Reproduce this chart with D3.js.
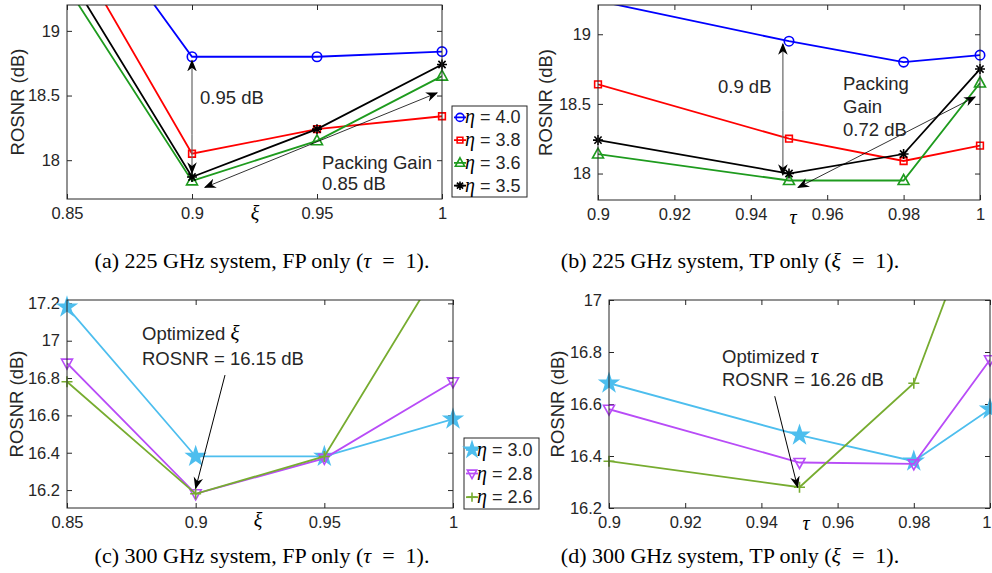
<!DOCTYPE html>
<html>
<head>
<meta charset="utf-8">
<script src="https://cdn.jsdelivr.net/npm/d3@7"></script>
<style>
  body { margin: 0; background: #fff; }
  text { font-family: "Liberation Sans", Arial, sans-serif; fill: #262626; }
  .serif { font-family: "Liberation Serif", "Times New Roman", serif; fill: #000; }
</style>
</head>
<body>
<svg id="fig" width="992" height="573"></svg>
<script>
// ---- data ----
// (a) 225 GHz, FP only
var xA = [0.85, 0.9, 0.95, 1];
var a_eta40 = [20.13, 18.80, 18.80, 18.84];
var a_eta38 = [19.72, 18.05, 18.24, 18.34];
var a_eta36 = [19.34, 17.84, 18.15, 18.65];
var a_eta35 = [19.45, 17.87, 18.24, 18.74];
var xTicksA = [0.85, 0.9, 0.95, 1];
var yTicksA = [18, 18.5, 19];

// (b) 225 GHz, TP only
var xB = [0.9, 0.95, 0.98, 1];
var b_eta40 = [19.24, 18.95, 18.80, 18.85];
var b_eta38 = [18.64, 18.25, 18.09, 18.20];
var b_eta36 = [18.14, 17.95, 17.95, 18.65];
var b_eta35 = [18.24, 18.00, 18.14, 18.75];
var xTicksB = [0.9, 0.92, 0.94, 0.96, 0.98, 1];
var yTicksB = [18, 18.5, 19];

// (c) 300 GHz, FP only
var xC = [0.85, 0.9, 0.95, 1];
var c_eta30 = [17.18, 16.38, 16.38, 16.58];
var c_eta28 = [16.88, 16.18, 16.37, 16.78];
var c_eta26 = [16.78, 16.18, 16.38, 17.51];
var xTicksC = [0.85, 0.9, 0.95, 1];
var yTicksC = [16.2, 16.4, 16.6, 16.8, 17, 17.2];

// (d) 300 GHz, TP only
var xD = [0.9, 0.95, 0.98, 1];
var d_eta30 = [16.68, 16.48, 16.38, 16.58];
var d_eta28 = [16.58, 16.375, 16.37, 16.77];
var d_eta26 = [16.38, 16.28, 16.68, 17.46];
var xTicksD = [0.9, 0.92, 0.94, 0.96, 0.98, 1];
var yTicksD = [16.2, 16.4, 16.6, 16.8, 17];

var labels225 = ['4.0', '3.8', '3.6', '3.5'];
var labels300 = ['3.0', '2.8', '2.6'];

var svg = d3.select('#fig');
var axisColor = '#262626';

// arrow heads
var defs = svg.append('defs');
defs.append('marker').attr('id', 'head').attr('viewBox', '0 0 10 10')
    .attr('refX', 9).attr('refY', 5).attr('markerWidth', 12).attr('markerHeight', 12)
    .attr('markerUnits', 'userSpaceOnUse').attr('orient', 'auto-start-reverse')
    .append('path').attr('d', 'M0,1 L10,5 L0,9 L3,5 Z').attr('fill', '#000');

// marker shapes
function markerPath(type, k) {
  k = k || 1;
  if (type == 'circle') return d3.symbol(d3.symbolCircle, 70 * k * k)();
  if (type == 'square') return d3.symbol(d3.symbolSquare, 45 * k * k)();
  if (type == 'triangle') return `M0,${-6*k}L${5.5*k},${4*k}L${-5.5*k},${4*k}Z`;
  if (type == 'tridown') return `M0,${6*k}L${5.5*k},${-4*k}L${-5.5*k},${-4*k}Z`;
  if (type == 'star') return d3.symbol(d3.symbolStar, 95 * k * k)();
  if (type == 'asterisk') { var r = 5 * k, q = 3.6 * k; return `M0,${-r}V${r}M${-r},0H${r}M${-q},${-q}L${q},${q}M${-q},${q}L${q},${-q}`; }
  if (type == 'plus') { var p = 5.5 * k; return `M0,${-p}V${p}M${-p},0H${p}`; }
}
function filled(type) { return type == 'star'; }

function panel(cfg) {
  var x = d3.scaleLinear().domain(cfg.xDom).range([cfg.l, cfg.r]);
  var y = d3.scaleLinear().domain(cfg.yDom).range([cfg.b, cfg.t]);
  var g = svg.append('g');
  var clipId = 'clip' + cfg.id;
  defs.append('clipPath').attr('id', clipId).append('rect')
      .attr('x', cfg.l).attr('y', cfg.t).attr('width', cfg.r - cfg.l).attr('height', cfg.b - cfg.t);

  // axes, ticks inside on all four sides
  var xAxis = g.append('g').attr('transform', `translate(0,${cfg.b})`)
      .call(d3.axisBottom(x).tickValues(cfg.xTicks).tickSizeInner(-5).tickSizeOuter(0).tickPadding(8).tickFormat(d => String(d)));
  g.append('g').attr('transform', `translate(${cfg.l},0)`)
      .call(d3.axisLeft(y).tickValues(cfg.yTicks).tickSizeInner(-5).tickSizeOuter(0).tickPadding(7).tickFormat(d => String(d)));
  g.append('g').attr('transform', `translate(0,${cfg.t})`)
      .call(d3.axisTop(x).tickValues(cfg.xTicks).tickSizeInner(-5).tickSizeOuter(0).tickFormat(''));
  g.append('g').attr('transform', `translate(${cfg.r},0)`)
      .call(d3.axisRight(y).tickValues(cfg.yTicks).tickSizeInner(-5).tickSizeOuter(0).tickFormat(''));
  g.selectAll('.domain').remove();
  g.selectAll('.tick line').attr('stroke', axisColor);
  g.selectAll('.tick text').style('font-size', '16.5px').attr('fill', axisColor);
  // last label right at the page edge: keep it inside
  if (cfg.r > 985) xAxis.selectAll('.tick text').filter(d => d == 1).attr('text-anchor', 'end').attr('x', 991 - cfg.r + 0);

  // series
  var line = d3.line().x(d => x(d[0])).y(d => y(d[1]));
  cfg.series.forEach(function(s) {
    var pts = cfg.xs.map((v, i) => [v, s.values[i]]);
    var sg = g.append('g').attr('clip-path', `url(#${clipId})`);
    sg.append('path').datum(pts).attr('d', line).attr('fill', 'none')
      .attr('stroke', s.color).attr('stroke-width', 1.8);
    g.append('g').selectAll('path').data(pts.filter(p => p[1] <= cfg.yDom[1] + 0.01)).enter()
      .append('path').attr('d', markerPath(s.marker))
      .attr('transform', p => `translate(${x(p[0])},${y(p[1])})`)
      .attr('fill', filled(s.marker) ? s.color : 'none')
      .attr('stroke', s.color).attr('stroke-width', 1.6);
  });

  // box
  g.append('rect').attr('x', cfg.l).attr('y', cfg.t).attr('width', cfg.r - cfg.l).attr('height', cfg.b - cfg.t)
    .attr('fill', 'none').attr('stroke', axisColor).attr('stroke-width', 1);

  // y label
  g.append('text').attr('transform', `translate(${cfg.yLabX},${(cfg.t + cfg.b) / 2}) rotate(-90)`)
    .attr('text-anchor', 'middle').style('font-size', '18.5px').text('ROSNR (dB)');
  // x symbol label
  g.append('text').attr('class', 'serif').attr('x', cfg.xLab[0]).attr('y', cfg.xLab[1])
    .attr('text-anchor', 'middle').style('font-size', '20px').style('font-style', 'italic').text(cfg.xSym);

  // caption
  var cap = g.append('text').attr('class', 'serif').attr('x', cfg.cap[0]).attr('y', cfg.cap[1])
    .attr('text-anchor', 'middle').style('font-size', '22px').attr('xml:space', 'preserve');
  cap.append('tspan').text(cfg.capText + ' (');
  cap.append('tspan').style('font-style', 'italic').text(cfg.capSym);
  cap.append('tspan').text('  =  1).');

  cfg.x = x; cfg.y = y; cfg.g = g;
  return cfg;
}

function arrow(p, from, to, color, width, both) {
  var ln = p.g.append('line')
    .attr('x1', p.x(from[0])).attr('y1', p.y(from[1]))
    .attr('x2', p.x(to[0])).attr('y2', p.y(to[1]))
    .attr('stroke', color).attr('stroke-width', width)
    .attr('marker-end', 'url(#head)');
  if (both) ln.attr('marker-start', 'url(#head)');
}

function note(p, xx, yy, lines, gap) {
  lines.forEach(function(t, i) {
    var tx = p.g.append('text').attr('x', xx).attr('y', yy + i * (gap || 22)).style('font-size', '18.5px').attr('fill', '#000');
    if (Array.isArray(t)) {
      tx.append('tspan').text(t[0]);
      tx.append('tspan').attr('class', 'serif').style('font-style', 'italic').style('font-size', '21px').text(t[1]);
    } else tx.text(t);
  });
}

function legend(p, bx, by, w, h, series, labs) {
  var lg = p.g.append('g');
  lg.append('rect').attr('x', bx).attr('y', by).attr('width', w).attr('height', h)
    .attr('fill', '#fff').attr('stroke', axisColor).attr('stroke-width', 1);
  var rowH = h / series.length;
  series.forEach(function(s, i) {
    var cy = by + rowH * (i + 0.5);
    lg.append('line').attr('x1', bx + 2).attr('x2', bx + 14).attr('y1', cy).attr('y2', cy)
      .attr('stroke', s.color).attr('stroke-width', 1.8);
    lg.append('path').attr('d', markerPath(s.marker, 0.85)).attr('transform', `translate(${bx + 8},${cy})`)
      .attr('fill', filled(s.marker) ? s.color : 'none').attr('stroke', s.color).attr('stroke-width', 1.6);
    var t = lg.append('text').attr('x', bx + 13).attr('y', cy + 6).style('font-size', '18px').attr('fill', '#000');
    t.append('tspan').attr('class', 'serif').style('font-style', 'italic').style('font-size', '20px').text('η');
    t.append('tspan').text(' = ' + labs[i]);
  });
}

var blue = '#0000ff', red = '#ff0000', green = '#1e9b1e', black = '#000000';
var cyan = '#4dbeee', purple = '#b84cf7', olive = '#77ac30';

var pa = panel({
  id: 'a', l: 67, r: 442, t: 5, b: 199, xDom: [0.85, 1], yDom: [17.7, 19.2],
  xTicks: xTicksA, yTicks: yTicksA, xs: xA, yLabX: 24, xLab: [255, 220], xSym: 'ξ',
  cap: [262, 268], capText: '(a) 225 GHz system, FP only', capSym: 'τ',
  series: [
    {values: a_eta40, color: blue, marker: 'circle'},
    {values: a_eta38, color: red, marker: 'square'},
    {values: a_eta36, color: green, marker: 'triangle'},
    {values: a_eta35, color: black, marker: 'asterisk'}
  ]
});
arrow(pa, [0.9, 18.55], [0.9, 18.77], '#666', 1.2, false);
arrow(pa, [0.9, 18.2], [0.9, 17.9], '#666', 1.2, false);
pa.g.append('line').attr('x1', pa.x(0.9)).attr('x2', pa.x(0.9)).attr('y1', pa.y(18.55)).attr('y2', pa.y(18.2))
  .attr('stroke', '#666').attr('stroke-width', 1.2);
arrow(pa, [0.9052, 17.79], [0.998, 18.52], '#000', 0.8, true);
note(pa, 200, 104, ['0.95 dB']);
note(pa, 322, 169, ['Packing Gain', '0.85 dB'], 21);
legend(pa, 452, 106, 75, 91, pa.series, labels225);

var pb = panel({
  id: 'b', l: 598, r: 980, t: 5, b: 200, xDom: [0.9, 1], yDom: [17.81, 19.21],
  xTicks: xTicksB, yTicks: yTicksB, xs: xB, yLabX: 552, xLab: [793, 224], xSym: 'τ',
  cap: [730, 268], capText: '(b) 225 GHz system, TP only', capSym: 'ξ',
  series: [
    {values: b_eta40, color: blue, marker: 'circle'},
    {values: b_eta38, color: red, marker: 'square'},
    {values: b_eta36, color: green, marker: 'triangle'},
    {values: b_eta35, color: black, marker: 'asterisk'}
  ]
});
arrow(pb, [0.9484, 18.45], [0.9484, 18.93], '#666', 1.2, false);
arrow(pb, [0.9484, 18.45], [0.9484, 17.99], '#666', 1.2, false);
arrow(pb, [0.9524, 17.9], [0.9987, 18.55], '#000', 0.8, true);
note(pb, 718, 93, ['0.9 dB']);
note(pb, 843, 90, ['Packing', 'Gain', '0.72 dB'], 23);

var pc = panel({
  id: 'c', l: 67, r: 453, t: 300, b: 508, xDom: [0.85, 1], yDom: [16.104, 17.218],
  xTicks: xTicksC, yTicks: yTicksC, xs: xC, yLabX: 23, xLab: [258, 527], xSym: 'ξ',
  cap: [262, 563], capText: '(c) 300 GHz system, FP only', capSym: 'τ',
  series: [
    {values: c_eta30, color: cyan, marker: 'star'},
    {values: c_eta28, color: purple, marker: 'tridown'},
    {values: c_eta26, color: olive, marker: 'plus'}
  ]
});
arrow(pc, [0.9114, 16.816], [0.9, 16.21], '#000', 1, false);
note(pc, 142, 340, [['Optimized ', 'ξ'], 'ROSNR = 16.15 dB'], 25);
legend(pc, 464, 438, 75, 71, pc.series, labels300);

var pd = panel({
  id: 'd', l: 609, r: 990, t: 300, b: 508, xDom: [0.9, 1], yDom: [16.2, 17],
  xTicks: xTicksD, yTicks: yTicksD, xs: xD, yLabX: 564, xLab: [806, 530], xSym: 'τ',
  cap: [730, 563], capText: '(d) 300 GHz system, TP only', capSym: 'ξ',
  series: [
    {values: d_eta30, color: cyan, marker: 'star'},
    {values: d_eta28, color: purple, marker: 'tridown'},
    {values: d_eta26, color: olive, marker: 'plus'}
  ]
});
arrow(pd, [0.9435, 16.63], [0.9495, 16.28], '#000', 1, false);
note(pd, 722, 363, [['Optimized ', 'τ'], 'ROSNR = 16.26 dB'], 23);
</script>
</body>
</html>
